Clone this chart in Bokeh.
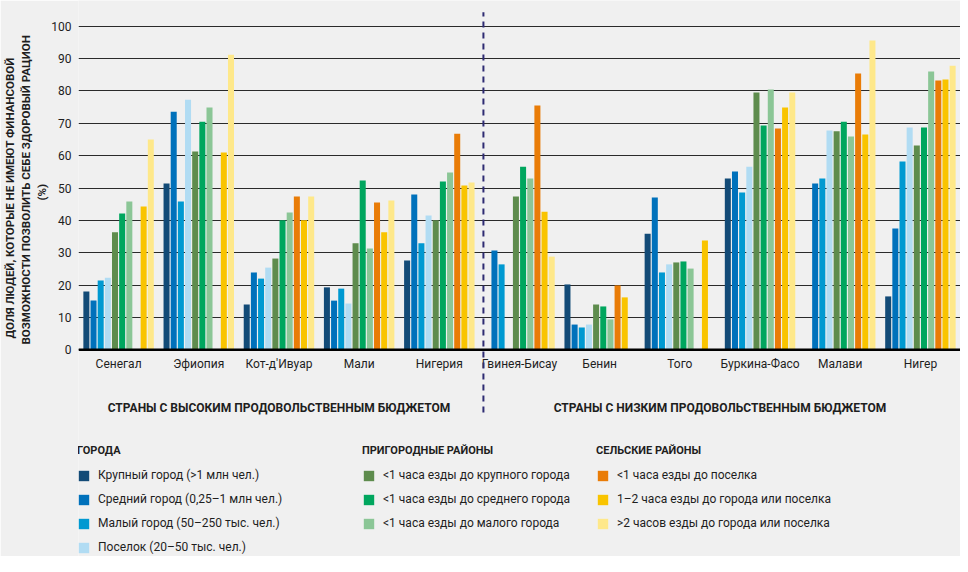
import math
from bokeh.plotting import figure
from bokeh.models import ColumnDataSource, FixedTicker, Span, Label, Legend, LegendItem, Title
from bokeh.transform import dodge
from bokeh.core.properties import value
from bokeh.embed import file_html
from bokeh.resources import INLINE

# ---------------- data ----------------
countries_high = ["Сенегал", "Эфиопия", "Кот-д'Ивуар", "Мали", "Нигерия"]
countries_low = ["Гвинея-Бисау", "Бенин", "Того", "Буркина-Фасо", "Малави", "Нигер"]
countries = countries_high + countries_low

big_city   = [18.0, 51.4, 14.0, 19.3, 27.6, None, 20.2, 35.9, 52.9, None, 16.5]
mid_city   = [15.2, 73.6, 23.9, 15.2, 48.0, 30.7, 7.8, 47.1, 55.1, 51.4, 37.5]
small_city = [21.4, 45.8, 22.0, 18.9, 32.9, 26.4, 6.9, 23.9, 48.6, 52.9, 58.2]
town       = [22.3, 77.3, 25.4, 14.3, 41.5, None, 7.8, 26.4, 56.6, 67.8, 68.7]
peri_big   = [36.3, 61.3, 28.2, 32.9, 40.0, 47.4, 14.0, 27.0, 79.5, 67.5, 63.1]
peri_mid   = [42.1, 70.5, 40.0, 52.3, 52.0, 56.6, 13.4, 27.3, 69.3, 70.5, 68.7]
peri_small = [45.8, 74.9, 42.4, 31.3, 54.8, 52.9, 9.4, 25.1, 80.4, 65.9, 86.0]
rural_near = [None, None, 47.4, 45.5, 66.8, 75.5, 19.9, None, 68.4, 85.4, 83.2]
rural_mid  = [44.3, 61.0, 40.0, 36.3, 50.8, 42.7, 16.2, 33.8, 74.9, 66.5, 83.5]
rural_far  = [65.0, 91.2, 47.4, 46.1, 51.7, 28.8, None, None, 79.5, 95.6, 87.8]

series_labels = [
    "Крупный город (>1 млн чел.)",
    "Средний город (0,25–1 млн чел.)",
    "Малый город (50–250 тыс. чел.)",
    "Поселок (20–50 тыс. чел.)",
    "<1 часа езды до крупного города",
    "<1 часа езды до среднего города",
    "<1 часа езды до малого города",
    "<1 часа езды до поселка",
    "1–2 часа езды до города или поселка",
    ">2 часов езды до города или поселка",
]
group_titles = ["ГОРОДА", "ПРИГОРОДНЫЕ РАЙОНЫ", "СЕЛЬСКИЕ РАЙОНЫ"]
group_sizes = [4, 3, 3]
budget_titles = ["СТРАНЫ С ВЫСОКИМ ПРОДОВОЛЬСТВЕННЫМ БЮДЖЕТОМ",
                 "СТРАНЫ С НИЗКИМ ПРОДОВОЛЬСТВЕННЫМ БЮДЖЕТОМ"]
y_title = ["ДОЛЯ ЛЮДЕЙ, КОТОРЫЕ НЕ ИМЕЮТ ФИНАНСОВОЙ",
           "ВОЗМОЖНОСТИ ПОЗВОЛИТЬ СЕБЕ ЗДОРОВЫЙ РАЦИОН",
           "(%)"]
y_ticks = list(range(0, 101, 10))

series = [big_city, mid_city, small_city, town, peri_big, peri_mid,
          peri_small, rural_near, rural_mid, rural_far]
colors = ["#134b77", "#0071bb", "#0099d1", "#b1dcf3", "#5e8c4d",
          "#00a65e", "#8bc696", "#e97c07", "#f9c400", "#fee88a"]

# ---------------- style ----------------
FONT = "Roboto"
BG = "#f0f0f0"
TXT = "#1e1e1e"

p = figure(x_range=countries, y_range=(-63.87, 107.94),
           width=960, height=556, output_backend="svg",
           toolbar_location=None, x_axis_location=None,
           min_border_left=0, min_border_right=0,
           min_border_top=0, min_border_bottom=0)
p.background_fill_color = BG
p.border_fill_color = BG
p.outline_line_color = None
p.x_range.range_padding = 0

p.xgrid.grid_line_color = None
p.yaxis.ticker = FixedTicker(ticks=y_ticks)
p.ygrid.grid_line_color = "#2a2a2a"
p.ygrid.grid_line_width = 1
p.yaxis.axis_line_color = None
p.yaxis.major_tick_line_color = None
p.yaxis.minor_tick_line_color = None
p.yaxis.major_tick_out = 0
p.yaxis.major_tick_in = 0
p.yaxis.major_label_standoff = 7
p.yaxis.major_label_text_font = FONT
p.yaxis.major_label_text_font_size = "12px"
p.yaxis.major_label_text_color = TXT

# y-axis title: three rotated lines in side panels (innermost first),
# each line starting (bottom end) at the given offset from the panel bottom
for t, off in zip(reversed(y_title), [356, 212, 218]):
    p.add_layout(Title(text=t, align="left", offset=off, standoff=0,
                       text_font=FONT, text_font_size="11.5px",
                       text_font_style="bold", text_color=TXT), "left")

# ---------------- bars ----------------
n = len(series)
slot = 0.0893
bar_w = 0.075
renderers = []
for k, (vals, col) in enumerate(zip(series, colors)):
    xs = [c for c, v in zip(countries, vals) if v is not None]
    ys = [v for v in vals if v is not None]
    src = ColumnDataSource(dict(x=xs, top=ys))
    r = p.vbar(x=dodge("x", (k - (n - 1) / 2) * slot, range=p.x_range),
               top="top", bottom=0, width=bar_w, source=src,
               fill_color=col, line_color=None)
    renderers.append(r)

# baseline
p.add_layout(Span(location=0, dimension="width", line_color="black", line_width=2.5))

# country labels
lab_src = ColumnDataSource(dict(x=countries, y=[-2.2] * len(countries), t=countries))
p.text(x="x", y="y", text="t", source=lab_src, text_align="center",
       text_baseline="top", text_font=value(FONT), text_font_size="12px",
       text_color=TXT)

# divider between budget groups
div_x = len(countries_high) + 0.05
div_src = ColumnDataSource(dict(x0=[div_x], y0=[-19.4], x1=[div_x], y1=[104.3]))
p.segment(x0="x0", y0="y0", x1="x1", y1="y1", source=div_src,
          line_color="#2e2b72", line_width=2, line_dash="6 5")

# budget group titles
centers = [len(countries_high) / 2, len(countries_high) + len(countries_low) / 2]
for cx, t in zip(centers, budget_titles):
    p.add_layout(Label(x=cx, y=-18.1, text=t, text_align="center",
                       text_baseline="middle", text_font=FONT,
                       text_font_size="12px", text_font_style="bold",
                       text_color=TXT))

# ---------------- legends ----------------
leg_x = [-1, 284, 518]
leg_y = [2, 26, 26]
start = 0
for gi, (title, size) in enumerate(zip(group_titles, group_sizes)):
    items = [LegendItem(label=series_labels[i], renderers=[renderers[i]])
             for i in range(start, start + size)]
    start += size
    leg = Legend(items=items, title=title, location=(leg_x[gi], leg_y[gi]),
                 orientation="vertical")
    leg.title_text_font = FONT
    leg.title_text_font_size = "11px"
    leg.title_text_font_style = "bold"
    leg.title_text_color = TXT
    leg.title_standoff = 11
    leg.label_text_font = FONT
    leg.label_text_font_size = "12px"
    leg.label_text_color = TXT
    leg.glyph_width = 13
    leg.glyph_height = 13
    leg.label_height = 13
    leg.label_standoff = 8
    leg.spacing = 10
    leg.padding = 0
    leg.margin = 0
    leg.border_line_color = None
    leg.background_fill_alpha = 0
    p.add_layout(leg)

open("out.html", "w").write(file_html(p, INLINE))
